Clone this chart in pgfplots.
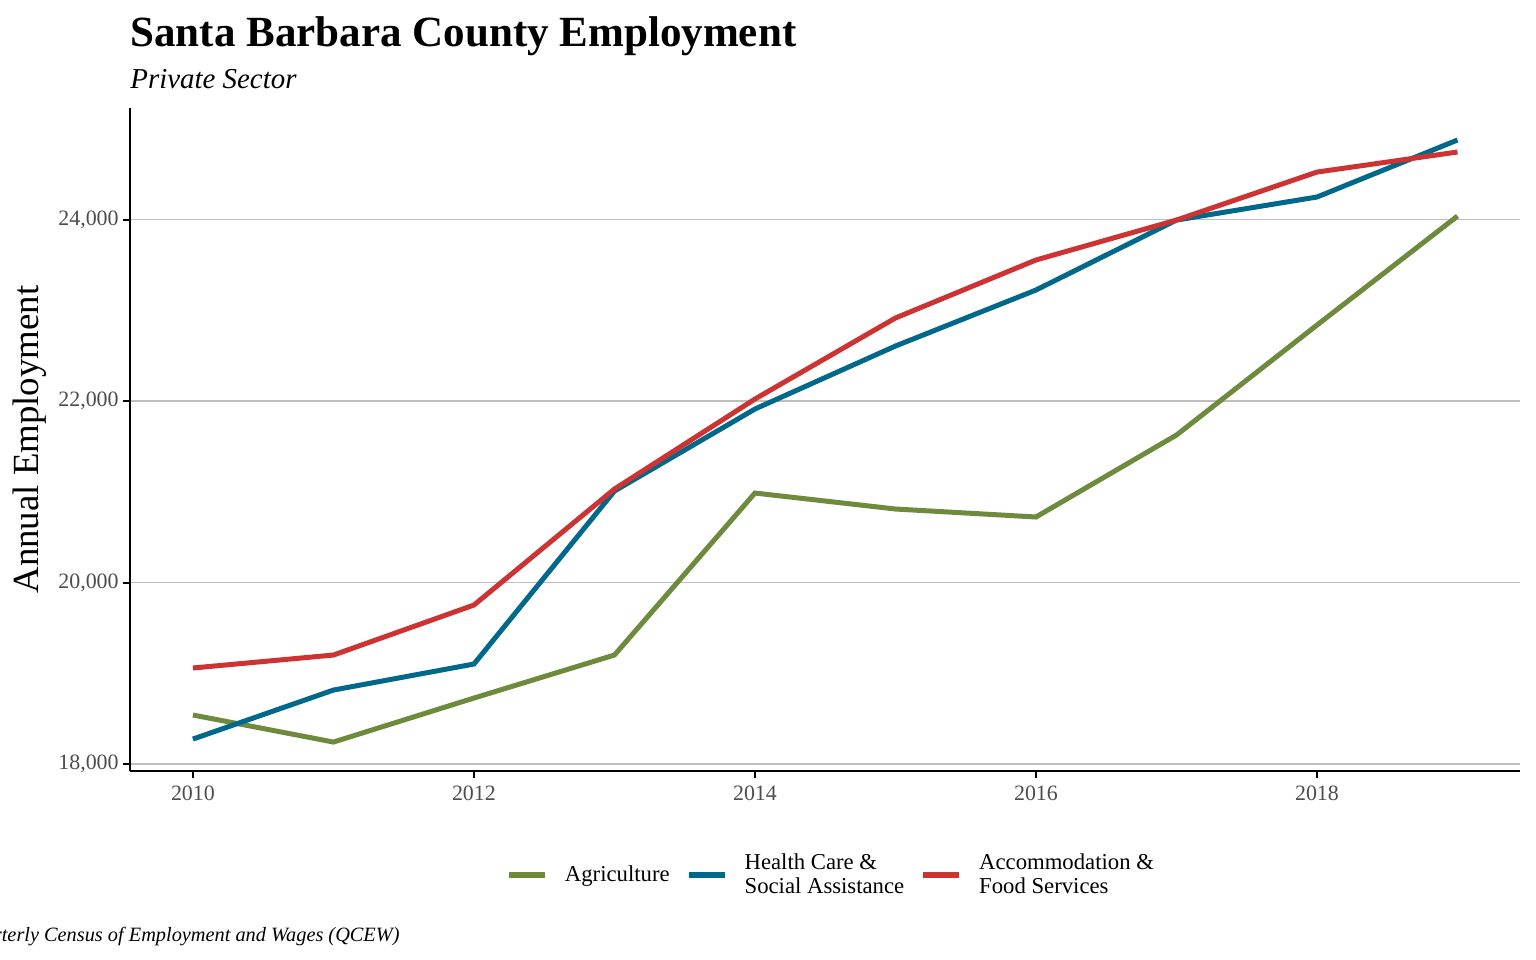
\documentclass[border=0pt]{standalone}
\usepackage{fontspec}
\setmainfont{Liberation Serif}
\usepackage{pgfplots}
\pgfplotsset{compat=1.18}
\definecolor{agri}{HTML}{6E8B3D}
\definecolor{health}{HTML}{00688B}
\definecolor{accom}{HTML}{CD3333}
\definecolor{gridgray}{HTML}{BEBEBE}
\definecolor{ticklab}{HTML}{4D4D4D}

\begin{document}
\begin{tikzpicture}
\useasboundingbox (0,0) rectangle (768bp,-480bp);
\begin{axis}[
  at={(65bp,-385.5bp)}, anchor=south west,
  scale only axis, width=695bp, height=331.5bp,
  xmin=2009.552, xmax=2019.445,
  ymin=17923, ymax=25229,
  xtick={2010,2012,2014,2016,2018},
  ytick={18000,20000,22000,24000},
  scaled ticks=false,
  axis x line*=bottom, axis y line*=left,
  axis line style={black, line width=1bp},
  tick align=outside, major tick length=3.5bp,
  tick style={black, line width=1bp},
  ymajorgrids, grid style={gridgray, line width=0.8bp},
  /pgf/number format/assume math mode=true,
  x tick label style={/pgf/number format/1000 sep={}},
  y tick label style={/pgf/number format/1000 sep={,}},
  tick label style={font=\fontsize{11}{13}\selectfont, text=ticklab},
  xticklabel style={inner sep=2bp, yshift=-2bp},
  yticklabel style={inner sep=2bp},
  ylabel={Annual Employment},
  ylabel style={at={(axis description cs:-0.072,0.5)}, anchor=center,
    font=\fontsize{18.5}{20}\selectfont},
  legend columns=3,
  legend cell align=left,
  legend style={at={(0.505,-0.157)}, anchor=center, draw=none, fill=none,
    font=\fontsize{11.4}{12.5}\selectfont,
    cells={align=left},
    /tikz/every even column/.append style={column sep=6bp},
    /tikz/every odd column/.append style={column sep=6.5bp}},
  legend image code/.code={\draw[#1, line width=3bp] (0bp,0bp) -- (18bp,0bp);},
]
\addplot[agri, line width=2.5bp] coordinates {
  (2010,18540) (2011,18242) (2012,18727) (2013,19201) (2014,20986)
  (2015,20810) (2016,20722) (2017,21625) (2018,22837) (2019,24038)
};
\addlegendentry{Agriculture}
\addplot[health, line width=2.5bp] coordinates {
  (2010,18275) (2011,18815) (2012,19102) (2013,21008) (2014,21912)
  (2015,22606) (2016,23223) (2017,23994) (2018,24248) (2019,24876)
};
\addlegendentry{Health Care \&\\Social Assistance}
\addplot[accom, line width=2.5bp] coordinates {
  (2010,19058) (2011,19201) (2012,19752) (2013,21030) (2014,22022)
  (2015,22915) (2016,23554) (2017,23994) (2018,24523) (2019,24744)
};
\addlegendentry{Accommodation \&\\Food Services}
\end{axis}
\node[anchor=base west, inner sep=0pt, font=\fontsize{21.6}{24}\selectfont\bfseries] at (65bp,-23bp) {Santa Barbara County Employment};
\node[anchor=base west, inner sep=0pt, font=\fontsize{14.5}{17}\selectfont\itshape] at (65bp,-44bp) {Private Sector};
\node[anchor=base east, inner sep=0pt, font=\fontsize{10.2}{12}\selectfont\itshape] at (200bp,-470.5bp) {Source: Quarterly Census of Employment and Wages (QCEW)};
\end{tikzpicture}
\end{document}
